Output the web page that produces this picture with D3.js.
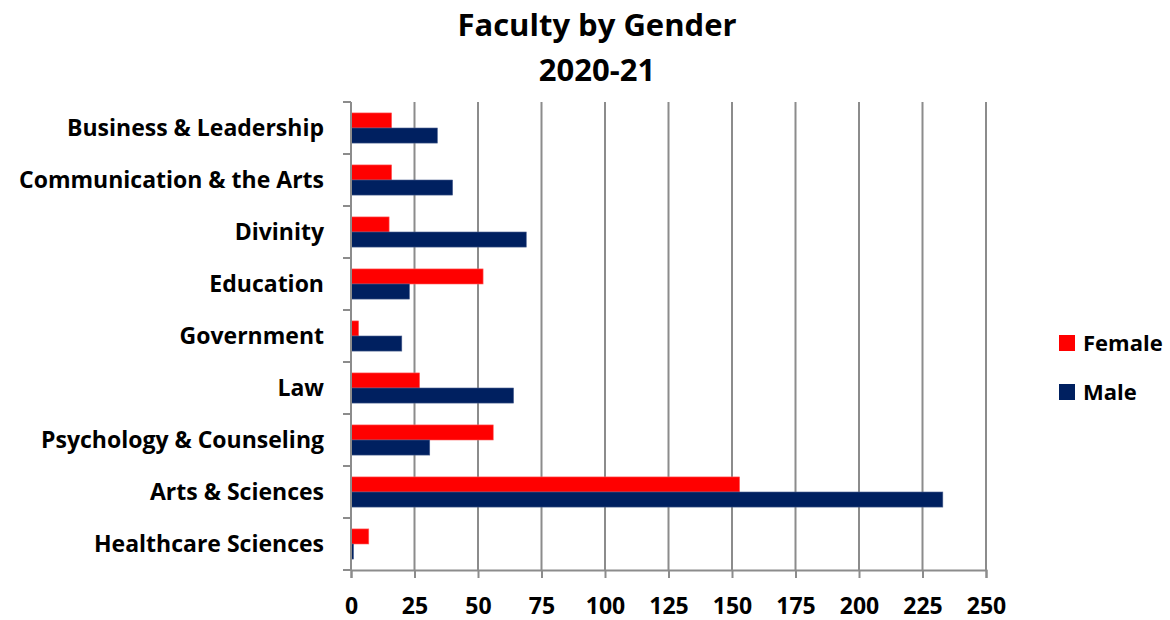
<!DOCTYPE html>
<html>
<head>
<meta charset="utf-8">
<script src="https://cdn.jsdelivr.net/npm/d3@7"></script>
<style>
  body { margin: 0; background: #fff; }
  text { font-family: "Open Sans", sans-serif; font-weight: bold; fill: #000; }
</style>
</head>
<body>
<svg id="chart" width="1170" height="620"></svg>
<script>
// data
var categories = ["Business & Leadership", "Communication & the Arts", "Divinity", "Education",
                  "Government", "Law", "Psychology & Counseling", "Arts & Sciences", "Healthcare Sciences"];
var female = [16, 16, 15, 52, 3, 27, 56, 153, 7];
var male = [34, 40, 69, 23, 20, 64, 31, 233, 1];
var seriesNames = ["Female", "Male"];
var xTicks = [0, 25, 50, 75, 100, 125, 150, 175, 200, 225, 250];

var colors = { Female: "#ff0000", Male: "#002060" };
var svg = d3.select("#chart");

var margin = { left: 351, right: 184, top: 102, bottom: 50 };
var width = 1170, height = 620;

var x = d3.scaleLinear().domain([0, 250]).range([margin.left, width - margin.right]);
var y = d3.scaleBand().domain(categories).range([margin.top, height - margin.bottom]).paddingInner(0.42).paddingOuter(0.21);
var inner = d3.scaleBand().domain(seriesNames).range([0, y.bandwidth()]);

// title
svg.append("text").attr("x", 597).attr("y", 36).attr("text-anchor", "middle")
  .style("font-size", "31px").text("Faculty by Gender");
svg.append("text").attr("x", 597).attr("y", 81).attr("text-anchor", "middle")
  .style("font-size", "31px").text("2020-21");

// vertical gridlines
svg.append("g").selectAll("line").data(xTicks.slice(1)).join("line")
  .attr("x1", function (d) { return x(d); }).attr("x2", function (d) { return x(d); })
  .attr("y1", margin.top).attr("y2", height - margin.bottom)
  .attr("stroke", "#8c8c8c").attr("stroke-width", 2);

// bars
var rows = categories.map(function (c, i) { return { cat: c, Female: female[i], Male: male[i] }; });
var g = svg.append("g").selectAll("g").data(rows).join("g")
  .attr("transform", function (d) { return "translate(0," + y(d.cat) + ")"; });
g.selectAll("rect").data(function (d) { return seriesNames.map(function (s) { return { s: s, v: d[s] }; }); })
  .join("rect")
  .attr("x", x(0))
  .attr("y", function (d) { return inner(d.s); })
  .attr("width", function (d) { return x(d.v) - x(0); })
  .attr("height", inner.bandwidth())
  .attr("fill", function (d) { return colors[d.s]; })
  .attr("stroke", function (d) { return d.s == "Female" ? "#ff6060" : "#4a5f8f"; })
  .attr("stroke-width", 0.6);

// x axis
var xAxis = svg.append("g").attr("transform", "translate(0," + (height - margin.bottom) + ")")
  .call(d3.axisBottom(x).tickValues(xTicks).tickSize(8));
xAxis.select(".domain").attr("stroke", "#8c8c8c").attr("stroke-width", 2);
xAxis.selectAll(".tick line").attr("stroke", "#8c8c8c").attr("stroke-width", 2);
xAxis.selectAll("text").attr("y", 44).attr("dy", null)
  .style("font-size", "23px").style("font-family", "'Open Sans', sans-serif").style("font-weight", "bold");

// y axis: category boundary ticks
var step = y.step();
var bounds = d3.range(categories.length + 1).map(function (i) { return margin.top + i * step; });
svg.append("line").attr("x1", x(0)).attr("x2", x(0)).attr("y1", margin.top).attr("y2", height - margin.bottom)
  .attr("stroke", "#8c8c8c").attr("stroke-width", 2);
svg.append("g").selectAll("line").data(bounds).join("line")
  .attr("x1", x(0) - 8).attr("x2", x(0)).attr("y1", function (d) { return d; }).attr("y2", function (d) { return d; })
  .attr("stroke", "#8c8c8c").attr("stroke-width", 2);
svg.append("g").selectAll("text").data(categories).join("text")
  .attr("x", 324).attr("y", function (d) { return y(d) + y.bandwidth() / 2; })
  .attr("dy", "0.35em").attr("text-anchor", "end").style("font-size", "23px")
  .text(function (d) { return d; });

// legend
var leg = svg.append("g").selectAll("g").data(seriesNames).join("g")
  .attr("transform", function (d, i) { return "translate(1059," + (335 + i * 49) + ")"; });
leg.append("rect").attr("width", 16).attr("height", 16).attr("fill", function (d) { return colors[d]; });
leg.append("text").attr("x", 24).attr("y", 8).attr("dy", "0.35em").style("font-size", "22px").text(function (d) { return d; });
</script>
</body>
</html>
